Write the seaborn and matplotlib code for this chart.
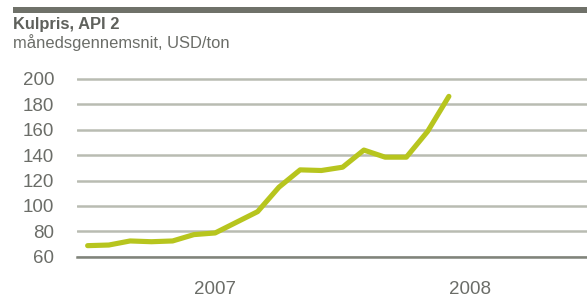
import matplotlib
matplotlib.use("Agg")
import matplotlib.pyplot as plt
import matplotlib.transforms as mtransforms
import seaborn as sns
import pandas as pd

# Månedlige gennemsnit, jan 2007 - jun 2008
maaned = list(range(18))
pris = [68.7, 69.2, 72.4, 71.8, 72.4, 77.4, 78.7, 87.1, 95.5, 114.7,
        128.4, 127.9, 130.5, 144.0, 138.4, 138.4, 158.7, 186.3]
aar_labels = ["2007", "2008"]
aar_pos = [6, 18]
y_ticks = [60, 80, 100, 120, 140, 160, 180, 200]

ds = pd.DataFrame({"maaned": maaned, "pris": pris})

sns.set_style("white")
plt.rcParams["font.family"] = ["Liberation Sans", "DejaVu Sans"]

tekst = "#6b6d68"
grid = "#b9bcb2"
akse = "#80847b"
groen = "#b7c51e"

fig = plt.figure(figsize=(5.87, 2.98), dpi=100)
ax = fig.add_axes([77 / 587, 1 - 256.7 / 298, 1 - 77 / 587, (256.7 - 77.7) / 298])

sns.lineplot(x="maaned", y="pris", data=ds, ax=ax, color=groen, linewidth=3.7,
             solid_capstyle="round", solid_joinstyle="round")
for l in ax.lines:
    l.set_clip_on(False)

ax.set_xlim(-0.5, 22.95)
ax.set_ylim(60, 201)
ax.set_yticks(y_ticks)
ax.set_yticklabels([str(v) for v in y_ticks], fontsize=13.5, color=tekst)
ax.set_xticks([-0.5, 11.5, 23.5])
ax.set_xticklabels([])
ax.tick_params(axis="y", length=0, pad=16.5)
ax.tick_params(axis="x", length=5, width=1.6, color=akse, direction="out")
ax.yaxis.grid(True, color=grid, linewidth=1.8)
ax.set_axisbelow(True)
for s in ["top", "right", "left"]:
    ax.spines[s].set_visible(False)
ax.spines["bottom"].set_color(akse)
ax.spines["bottom"].set_linewidth(1.8)
ax.set_xlabel("")
ax.set_ylabel("")

# årstal under aksen
trans = mtransforms.blended_transform_factory(ax.transData, fig.transFigure)
for p, t in zip(aar_pos, aar_labels):
    ax.text(p, 1 - 289 / 298, t, transform=trans, ha="center", va="center",
            fontsize=13.5, color=tekst)

# overskrift og bjælke
fig.add_artist(plt.Rectangle((13 / 587, 1 - 13 / 298), 1, 6 / 298,
                             transform=fig.transFigure, color="#6f7169", lw=0))
fig.text(13 / 587, 1 - 29 / 298, "Kulpris, API 2", fontsize=11.9, fontweight="bold",
         color="#5f615c", ha="left", va="baseline")
fig.text(13 / 587, 1 - 48 / 298, "månedsgennemsnit, USD/ton", fontsize=11.9,
         color=tekst, ha="left", va="baseline")

plt.savefig("out.png", dpi=100)
